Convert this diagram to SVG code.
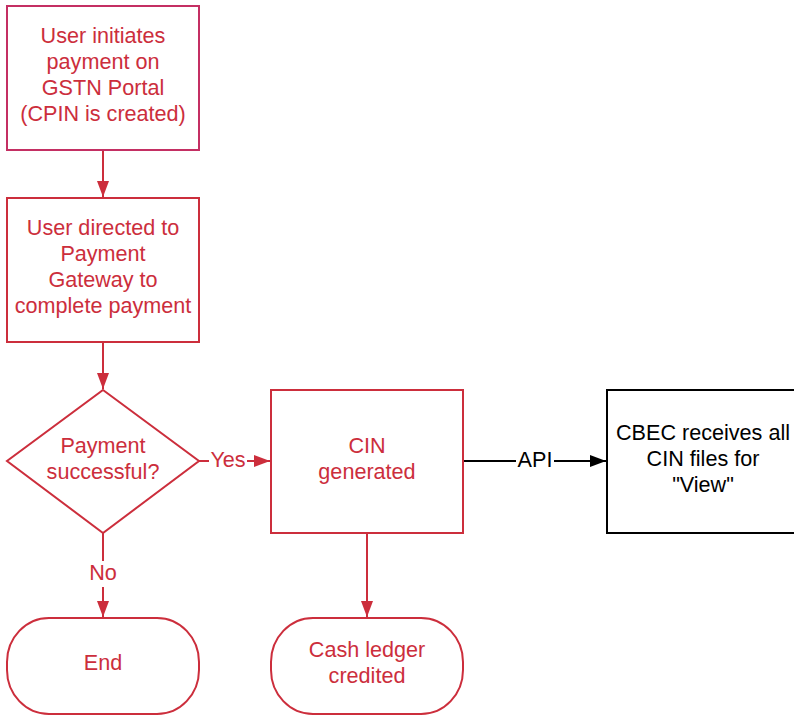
<svg xmlns="http://www.w3.org/2000/svg" width="794" height="717" viewBox="0 0 794 717">
<defs>
<style>
.n{fill:#fff;stroke:#cc2e3c;stroke-width:2}
.t{font-family:"Liberation Sans",Arial,sans-serif;font-size:21.6px;fill:#cc2e3c;text-anchor:middle}
.k{fill:#000}
.e{fill:none;stroke:#cc2e3c;stroke-width:2}
.lb{fill:#fff}
</style>
<marker id="ar" viewBox="0 0 16 12" refX="16" refY="6" markerWidth="16" markerHeight="12" markerUnits="userSpaceOnUse" orient="auto"><path d="M0,0L16,6L0,12z" fill="#cc2e3c"/></marker>
<marker id="ab" viewBox="0 0 16 12" refX="16" refY="6" markerWidth="16" markerHeight="12" markerUnits="userSpaceOnUse" orient="auto"><path d="M0,0L16,6L0,12z" fill="#000"/></marker>
</defs>
<g id="connectors">
<path class="e" d="M103,150V197" marker-end="url(#ar)"/>
<path class="e" d="M103,342V389" marker-end="url(#ar)"/>
<path class="e" d="M199,461H270" marker-end="url(#ar)"/>
<rect class="lb" x="209" y="449" width="38" height="24"/>
<text class="t" x="228" y="467">Yes</text>
<path class="e" d="M103,533V617" marker-end="url(#ar)"/>
<rect class="lb" x="88" y="561" width="30" height="26"/>
<text class="t" x="103" y="580">No</text>
<path class="e" d="M367,533V617" marker-end="url(#ar)"/>
<path d="M463,461H606" fill="none" stroke="#000" stroke-width="2" marker-end="url(#ab)"/>
<rect class="lb" x="516" y="449" width="38" height="24"/>
<text class="t k" x="535" y="467">API</text>
</g>
<g id="n1">
<rect x="7" y="6" width="192" height="144" fill="#fff" stroke="#c42f63" stroke-width="2"/>
<text class="t" x="103" y="43">User initiates</text>
<text class="t" x="103" y="69">payment on</text>
<text class="t" x="103" y="95">GSTN Portal</text>
<text class="t" x="103" y="121">(CPIN is created)</text>
</g>
<g id="n2">
<rect class="n" x="7" y="198" width="192" height="144"/>
<text class="t" x="103" y="235">User directed to</text>
<text class="t" x="103" y="261">Payment</text>
<text class="t" x="103" y="287">Gateway to</text>
<text class="t" x="103" y="313">complete payment</text>
</g>
<g id="n3">
<path class="n" d="M103,390L199,461L103,533L7,461Z"/>
<text class="t" x="103" y="453">Payment</text>
<text class="t" x="103" y="479">successful?</text>
</g>
<g id="n4">
<rect class="n" x="271" y="390" width="192" height="143"/>
<text class="t" x="367" y="453">CIN</text>
<text class="t" x="367" y="479">generated</text>
</g>
<g id="n5">
<rect x="607" y="390" width="192" height="143" fill="#fff" stroke="#000" stroke-width="2"/>
<text class="t k" x="703" y="440">CBEC receives all</text>
<text class="t k" x="703" y="466">CIN files for</text>
<text class="t k" x="703" y="492">"View"</text>
</g>
<g id="n6">
<rect class="n" x="7" y="618" width="192" height="96" rx="42" ry="44"/>
<text class="t" x="103" y="670">End</text>
</g>
<g id="n7">
<rect class="n" x="271" y="618" width="192" height="96" rx="42" ry="44"/>
<text class="t" x="367" y="657">Cash ledger</text>
<text class="t" x="367" y="683">credited</text>
</g>
</svg>
